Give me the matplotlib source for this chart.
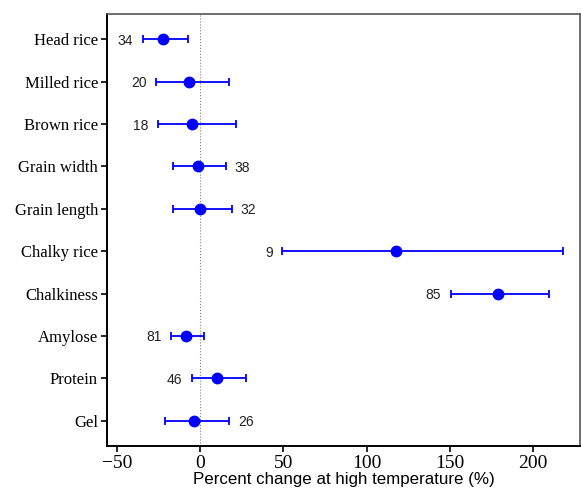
import numpy as np
import matplotlib
matplotlib.use("Agg")
import matplotlib.pyplot as plt

# trait names, top to bottom
traits = ["Head rice", "Milled rice", "Brown rice", "Grain width", "Grain length",
          "Chalky rice", "Chalkiness", "Amylose", "Protein", "Gel"]
# mean percent change and 95% CI
mean = [-22.4, -7.0, -4.8, -1.6, -0.4, 117.8, 178.7, -8.4, 10.0, -3.6]
ci_low = [-34.4, -26.4, -25.6, -16.2, -16.4, 49.3, 150.6, -17.4, -5.0, -21.2]
ci_high = [-7.6, 17.2, 21.6, 15.8, 19.0, 218.1, 209.9, 2.4, 27.5, 17.6]
# number of observations, and which side the number sits on
n_obs = [34, 20, 18, 38, 32, 9, 85, 81, 46, 26]
n_side = ["left", "left", "left", "right", "right", "left", "left", "left", "left", "right"]

mean = np.array(mean)
ci_low = np.array(ci_low)
ci_high = np.array(ci_high)
ypos = np.arange(len(traits))[::-1] + 1

fig = plt.figure(figsize=(5.81, 4.90), dpi=100)
ax = fig.add_axes([0.1842, 0.0898, 0.8148, 0.8816])

ax.axvline(0, color="gray", lw=0.8, ls=":", zorder=1)
ax.errorbar(mean, ypos, xerr=[mean - ci_low, ci_high - mean], fmt="o",
            color="blue", ecolor="blue", elinewidth=1.3, capsize=3,
            capthick=1.3, markersize=7.5, zorder=3)

for i in range(len(traits)):
    if n_side[i] == "left":
        ax.annotate(str(n_obs[i]), (ci_low[i], ypos[i]), xytext=(-7, 0),
                    textcoords="offset points", ha="right", va="center_baseline",
                    fontsize=10, family="Liberation Sans", color="#222222")
    else:
        ax.annotate(str(n_obs[i]), (ci_high[i], ypos[i]), xytext=(6, 0),
                    textcoords="offset points", ha="left", va="center_baseline",
                    fontsize=10, family="Liberation Sans", color="#222222")

ax.set_xlim(-56, 228.5)
ax.set_ylim(0.4, 10.6)
ax.set_yticks(ypos)
ax.set_yticklabels(traits, family="Liberation Serif", fontsize=12)
ax.set_xticks([-50, 0, 50, 100, 150, 200])
ax.set_xticklabels(["\u221250", "0", "50", "100", "150", "200"],
                   family="Liberation Serif", fontsize=14)
ax.tick_params(axis="both", direction="out", length=4.5, width=1.2, pad=2)
ax.set_xlabel("Percent change at high temperature (%)", family="Liberation Sans",
              fontsize=12.2, labelpad=0)

for s in ["left", "bottom"]:
    ax.spines[s].set_linewidth(1.4)
ax.spines["top"].set_linewidth(1.2)
ax.spines["top"].set_color("#555555")
ax.spines["right"].set_linewidth(1.2)
ax.spines["right"].set_color("#555555")

fig.savefig("out.png", dpi=100)
